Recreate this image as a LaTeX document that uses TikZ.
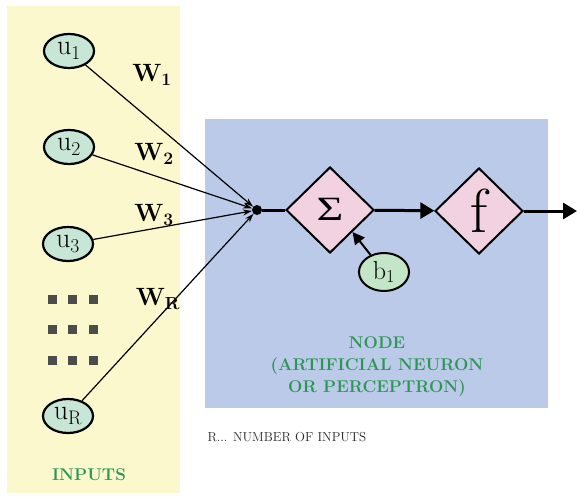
\documentclass[tikz,border=0pt]{standalone}
\usepackage{fontspec}
\usepackage{graphicx}
\newfontfamily\grkfont{Liberation Serif}
\usetikzlibrary{shapes.geometric,arrows.meta}
\definecolor{bgyellow}{RGB}{250,248,204}
\definecolor{bgblue}{RGB}{186,202,232}
\definecolor{nodegreen}{RGB}{200,230,214}
\definecolor{bgreen}{RGB}{196,230,200}
\definecolor{diapink}{RGB}{242,210,224}
\definecolor{txtgreen}{RGB}{45,150,85}
\tikzset{
  inp/.style={ellipse, draw=black, line width=2.2pt, fill=nodegreen, minimum width=50pt, minimum height=34pt, inner sep=0pt, font=\fontsize{28}{30}\selectfont},
  dia/.style={diamond, draw=black, line width=2pt, fill=diapink, minimum width=88pt, minimum height=86pt, inner sep=0pt},
  wire/.style={line width=1.2pt, -{Stealth[length=9pt,width=6pt]}},
  wlab/.style={font=\fontsize{25}{27}\selectfont\bfseries},
  thickarrow/.style={line width=3pt, -{Triangle[length=14pt,width=16pt]}},
  dotsq/.style={fill=black!70, minimum size=9pt, inner sep=0pt},
  greentxt/.style={text=txtgreen, font=\fontsize{17}{22}\selectfont\bfseries, align=center}
}
\begin{document}
\begin{tikzpicture}[x=1pt,y=-1pt]
\useasboundingbox (0,0) rectangle (577,497);
\fill[bgyellow] (7,6) rectangle (180,493);
\fill[bgblue] (205,119) rectangle (548,408);

\node[inp] (u1) at (69,51) {u\textsubscript{1}};
\node[inp] (u2) at (69,147) {u\textsubscript{2}};
\node[inp] (u3) at (68,244) {u\textsubscript{3}};
\node[inp] (uR) at (68,416) {u\textsubscript{R}};

\foreach \r/\yy in {1/299,2/329,3/360}{
  \foreach \c/\xx in {1/52,2/72,3/93}{
    \node[dotsq] (d\r\c) at (\xx,\yy) {};
  }
}

\node[circle, fill=black, minimum size=10pt, inner sep=0pt] (j) at (257,210) {};

\draw[wire] (u1) -- (j);
\draw[wire] (u2) -- (j);
\draw[wire] (u3) -- (j);
\draw[wire] (uR) -- (j);

\node[wlab] (w1) at (152,75) {W\textsubscript{1}};
\node[wlab] (w2) at (154,154) {W\textsubscript{2}};
\node[wlab] (w3) at (154,215) {W\textsubscript{3}};
\node[wlab] (wR) at (158,299) {W\textsubscript{R}};

\node[dia] (sum) at (330,210) {\raisebox{2pt}{\scalebox{1.35}[1]{\fontsize{34}{36}\grkfont Σ}}};
\node[dia] (f) at (479,211) {\fontsize{62}{64}\selectfont f};
\coordinate (out) at (577,211);

\draw[line width=3pt] (j) -- (sum);
\draw[thickarrow] (sum) -- (f);
\draw[thickarrow] (f) -- (out);

\node[inp, fill=bgreen, minimum width=50pt, minimum height=38pt, line width=2pt, font=\fontsize{26}{28}\selectfont] (b1) at (384,272) {b\textsubscript{1}};
\draw[line width=2pt, -{Triangle[length=12pt,width=12pt]}] (b1) -- (sum.south east);

\node[greentxt] (nodetxt) at (377,367) {NODE\\(ARTIFICIAL NEURON\\OR PERCEPTRON)};
\node[anchor=west, font=\fontsize{13}{14}\selectfont, text=black!85] (rtxt) at (204,437) {R... NUMBER OF INPUTS};
\node[text=txtgreen, font=\fontsize{17}{20}\selectfont\bfseries] (inputs) at (89,475) {INPUTS};
\end{tikzpicture}
\end{document}
